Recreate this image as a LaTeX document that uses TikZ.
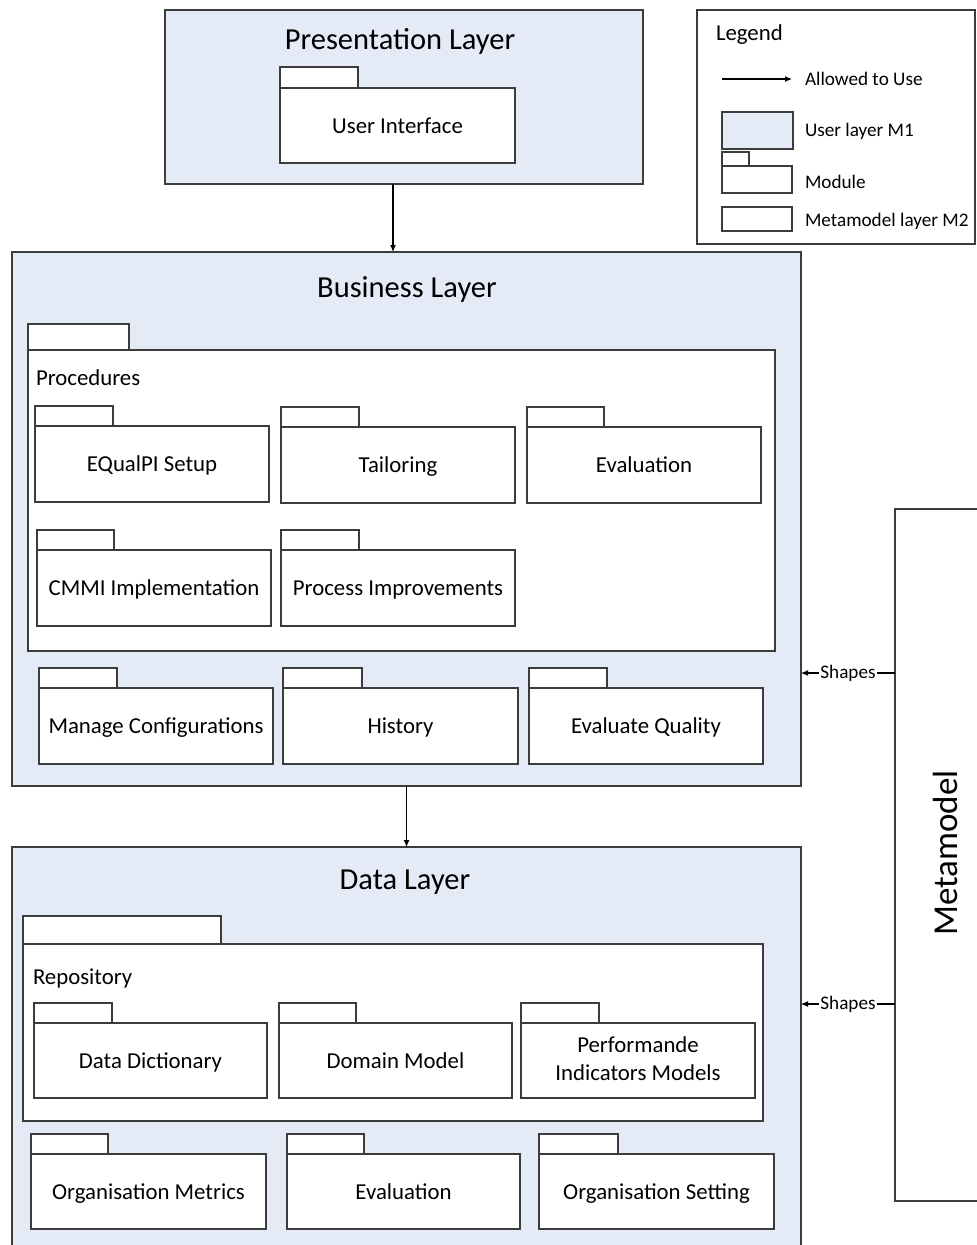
\documentclass[tikz,border=0pt]{standalone}
\usepackage{fontspec}
\setmainfont{Carlito}
\usetikzlibrary{arrows.meta,calc}

\definecolor{layerfill}{RGB}{229,235,246}
\definecolor{edge}{RGB}{60,60,60}

\newcommand\titlefont{\fontsize{30.5}{36}\selectfont}
\newcommand\lblfont{\fontsize{22.8}{28}\selectfont}
\newcommand\legfont{\fontsize{19.2}{23}\selectfont}
\newcommand\metafont{\fontsize{35}{42}\selectfont}
% fixed line extent so labels sit at the same height with or without descenders
\newcommand\lbltop{\rule{0pt}{20pt}}
\newcommand\lblbot{\rule[-4.8pt]{0pt}{4.8pt}}

% UML package: body node #1 at top-left (#2,#3), size #4 x #5, tab #6 x #7, label #8
\newcommand\modpkg[8]{%
  \node[modbody, minimum width=#4pt, minimum height=#5pt, anchor=north west] (#1) at (#2,#3) {#8};
  \node[modtab, minimum width=#6pt, minimum height=#7pt, anchor=south west] (#1-tab) at (#1.north west) {};
}

\begin{document}
\begin{tikzpicture}[x=1pt, y=-1pt,
  every node/.style={outer sep=0pt},
  box/.style={draw=edge, line width=1.1pt, rectangle, inner sep=2pt},
  layer/.style={box, fill=layerfill},
  modbody/.style={box, fill=white, font=\lblfont, align=center,
    execute at begin node=\lbltop, execute at end node=\lblbot},
  modtab/.style={box, fill=white},
  ltitle/.style={font=\titlefont, inner sep=0pt, execute at begin node=\strut},
  plabel/.style={font=\lblfont, anchor=west, inner sep=0pt, execute at begin node=\strut},
  legtxt/.style={font=\legfont, anchor=west, inner sep=0pt, execute at begin node=\strut},
  shapelbl/.style={font=\legfont, fill=white, inner sep=1.5pt},
  arr/.style={draw=black, line width=1.1pt, -{Latex[length=7pt,width=6pt]}}
]
\clip (0,0) rectangle (977,1245);
\fill[white] (0,0) rectangle (977,1245);

% Presentation layer
\node[layer, minimum width=478pt, minimum height=174pt, anchor=north west] (pres) at (165,10) {};
\node[ltitle] (pres-title) at (400,42.5) {Presentation Layer};
\modpkg{ui}{280}{88}{235}{75}{78}{21}{User Interface}

% Business layer
\node[layer, minimum width=789pt, minimum height=534pt, anchor=north west] (bus) at (12,252) {};
\node[ltitle] (bus-title) at (407,290.5) {Business Layer};
\modpkg{proc}{28}{350}{747}{301}{101}{26}{}
\node[plabel] (proc-label) at (36,379.5) {Procedures};
\modpkg{setup}{35}{426}{234}{76}{78}{20}{EQualPI Setup}
\modpkg{tail}{281}{427}{234}{76}{78}{20}{Tailoring}
\modpkg{evalp}{527}{427}{234}{76}{77}{20}{Evaluation}
\modpkg{cmmi}{37}{550}{234}{76}{77}{20}{CMMI Implementation}
\modpkg{impr}{281}{550}{234}{76}{78}{20}{Process Improvements}
\modpkg{conf}{39}{688}{234}{76}{78}{20}{Manage Configurations}
\modpkg{hist}{283}{688}{235}{76}{79}{20}{History}
\modpkg{qual}{529}{688}{234}{76}{78}{20}{Evaluate Quality}

% Data layer
\node[layer, minimum width=789pt, minimum height=420pt, anchor=north west] (data) at (12,847) {};
\node[ltitle] (data-title) at (405,882.5) {Data Layer};
\modpkg{repo}{23}{944}{740}{177}{198}{28}{}
\node[plabel] (repo-label) at (33,978.5) {Repository};
\modpkg{dict}{34}{1023}{233}{75}{78}{20}{Data Dictionary}
\modpkg{dom}{279}{1023}{233}{75}{77}{20}{Domain Model}
\modpkg{perf}{521}{1023}{234}{75}{78}{20}{Performande\\Indicators Models}
\modpkg{ometr}{31}{1154}{235}{75}{77}{20}{Organisation Metrics}
\modpkg{evald}{287}{1154}{233}{75}{77}{20}{Evaluation}
\modpkg{oset}{539}{1154}{235}{75}{79}{20}{Organisation Setting}

% Metamodel
\node[box, fill=white, minimum width=100pt, minimum height=692pt, anchor=north west] (meta) at (895,509) {};
\node[font=\metafont, rotate=90, inner sep=0pt] (meta-label) at (945,853) {Metamodel};

% Dependencies
\draw[arr] ([xshift=-11pt]pres.south) -- ([xshift=-11pt]pres.south |- bus.north);
\draw[arr] (bus.south) -- (data.north);
\coordinate (sh1) at (848,673);
\coordinate (sh2) at (848,1004);
\draw[arr] (sh1 -| meta.west) -- node[shapelbl] (sh1-lbl) {Shapes} (sh1 -| bus.east);
\draw[arr] (sh2 -| meta.west) -- node[shapelbl] (sh2-lbl) {Shapes} (sh2 -| data.east);

% Legend
\node[box, fill=white, minimum width=278pt, minimum height=234pt, anchor=north west] (legend) at (697,10) {};
\node[plabel] (legend-title) at (716,34.5) {Legend};
\coordinate (la1) at (722,79);
\coordinate (la2) at (792,79);
\draw[arr] (la1) -- (la2);
\node[legtxt] (leg-use) at (805,80.5) {Allowed to Use};
\node[layer, minimum width=71pt, minimum height=37pt, anchor=north west] (leg-m1) at (722,112) {};
\node[legtxt] (leg-m1-txt) at (805,131.5) {User layer M1};
\node[box, fill=white, minimum width=70pt, minimum height=27pt, anchor=north west] (leg-mod) at (722,166) {};
\node[modtab, minimum width=27pt, minimum height=14pt, anchor=south west] (leg-mod-tab) at (leg-mod.north west) {};
\node[legtxt] (leg-mod-txt) at (805,183.5) {Module};
\node[box, minimum width=70pt, minimum height=24pt, anchor=north west] (leg-m2) at (722,207) {};
\node[legtxt] (leg-m2-txt) at (805,221.5) {Metamodel layer M2};
\end{tikzpicture}
\end{document}
